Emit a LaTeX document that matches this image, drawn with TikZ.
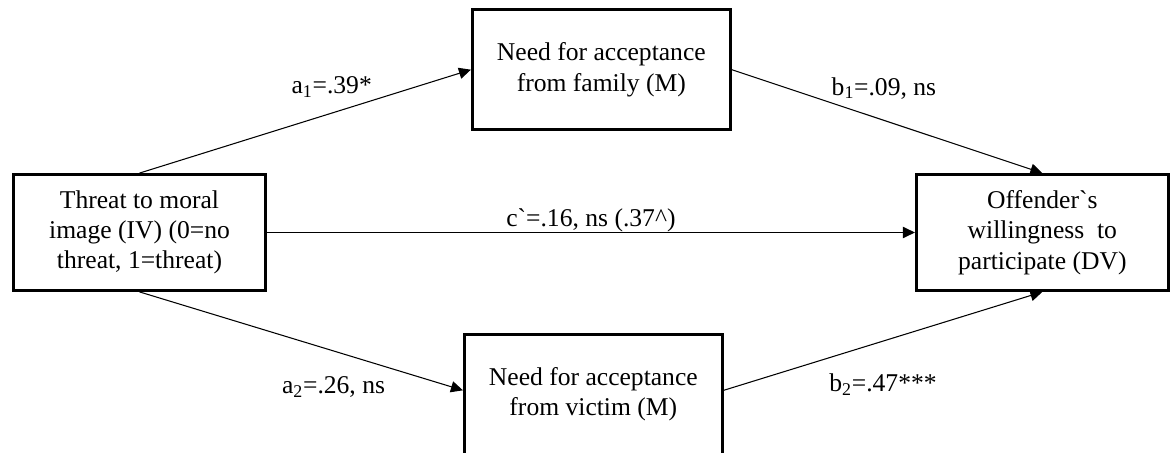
\documentclass[tikz,border=0pt]{standalone}
\usepackage{fontspec}
\setmainfont{LiberationSerif}[Extension=.ttf, UprightFont=*-Regular, BoldFont=*-Bold, ItalicFont=*-Italic]
\usetikzlibrary{positioning,arrows.meta}

\begin{document}
\begin{tikzpicture}[
  txt/.style={font=\fontsize{18.2}{21.5}\selectfont},
  box/.style={txt, draw, line width=2pt, align=center, minimum width=6.3cm, minimum height=2.9cm},
  med/.style={box, minimum width=6.45cm, minimum height=3cm},
  arrow/.style={-{Triangle[length=8.5pt,width=8pt]}, line width=0.75pt}
]
\useasboundingbox (0,0) rectangle (29.25,-11.325);
\node[box] (iv) at (3.4875,-5.8125) {Threat to moral\\image (IV) (0=no\\threat, 1=threat)};
\node[med, above right=1.05cm and 5.1cm of iv] (fam) {Need for acceptance\\from family (M)};
\node[med, below right=1.025cm and 4.9cm of iv] (vic) {Need for acceptance\\from victim (M)};
\node[box, right=16.2cm of iv] (dv) {Offender\textasciigrave s\\willingness\ \ to\\participate (DV)};
\draw[arrow] (iv.north) -- node[txt, pos=0.58, yshift=0.65cm] {a\textsubscript{1}=.39*} (fam.west);
\draw[arrow] (fam.east) -- node[txt, pos=0.49, yshift=0.8cm] {b\textsubscript{1}=.09, ns} (dv.north);
\draw[arrow] (iv.east) -- node[txt, pos=0.5, yshift=0.3cm] {c\textasciigrave=.16, ns (.37\textasciicircum)} (dv.west);
\draw[arrow] (iv.south) -- node[txt, pos=0.6, yshift=-0.9cm] {a\textsubscript{2}=.26, ns} ([yshift=1mm]vic.west);
\draw[arrow] ([yshift=1mm]vic.east) -- node[txt, pos=0.5, yshift=-1.08cm] {b\textsubscript{2}=.47***} (dv.south);
\end{tikzpicture}
\end{document}
